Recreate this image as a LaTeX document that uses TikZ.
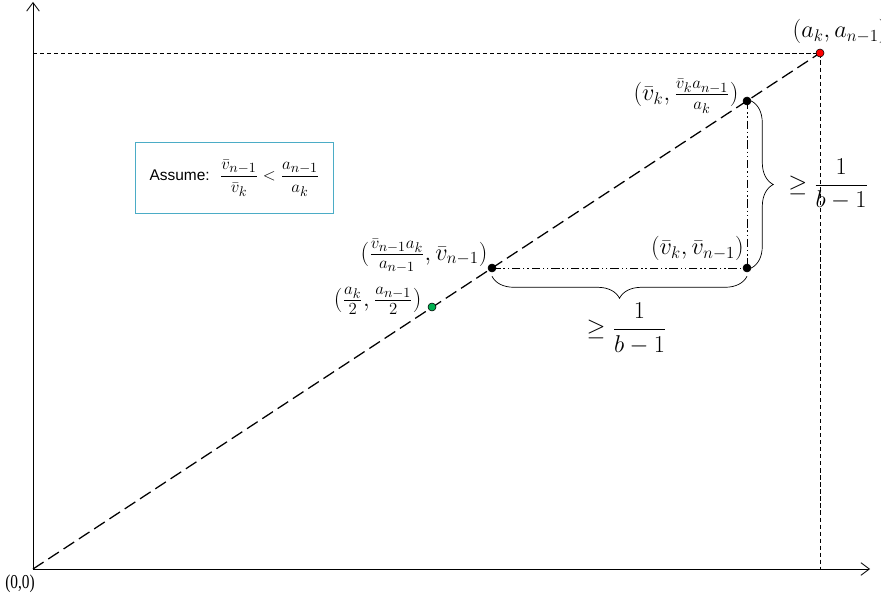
\documentclass[tikz,border=0pt]{standalone}
\usepackage{amsmath}
\usepackage{fontspec}
\setsansfont{Liberation Sans}
\newfontfamily\timesfont{Liberation Serif}
\DeclareMathSizes{16}{16}{12.5}{10}
\DeclareMathSizes{13}{13}{10}{8}
\usepackage{tikz}
\usetikzlibrary{arrows.meta, positioning, decorations.pathreplacing, backgrounds}
\usepackage{xcolor}
\definecolor{boxTeal}{RGB}{75,172,198}
\definecolor{dotGreen}{RGB}{0,176,80}
\definecolor{dotRed}{RGB}{255,0,0}

\begin{document}
\begin{tikzpicture}[
    x=0.025cm, y=-0.025cm,
    dot/.style={circle, draw=black, fill=black, inner sep=0pt, minimum size=0.2cm, line width=0.4pt},
    lbl/.style={inner sep=0pt, font=\fontsize{16}{19}\selectfont},
    diag/.style={line width=0.9pt, dash pattern=on 9pt off 4pt},
    guide/.style={line width=0.5pt, dash pattern=on 3pt off 2pt},
    dashdotdot/.style={line width=0.5pt, dash pattern=on 6pt off 2pt on 1pt off 2pt on 1pt off 2pt},
    bracebox/.style={decorate, decoration={brace, amplitude=0.55cm}, line width=0.5pt},
    >={Straight Barb[length=6pt, width=9pt]}
]
\useasboundingbox (0,0) rectangle (881,603);

% points
\coordinate (O) at (33,569);
\coordinate (xEnd) at (870,569);
\coordinate (yEnd) at (33,2);
\coordinate (aLeft) at (33,53);
\coordinate (aDown) at (820,569);
\node[dot, fill=dotRed] (pA) at (820,53) {};
\node[dot] (pB) at (747,101) {};
\node[dot] (pC) at (747,268) {};
\node[dot] (pD) at (492,268) {};
\node[dot, fill=dotGreen] (pM) at (432,307) {};

% lines
\begin{scope}[on background layer]
\draw[guide] (aLeft) -- (pA.center) -- (aDown);
\draw[diag] (O) -- (pA.center);
\draw[dashdotdot] (pB.center) -- (pC.center) -- (pD.center);
\end{scope}
\draw[->, line width=0.6pt] (O) -- (xEnd);
\draw[->, line width=0.6pt] (O) -- (yEnd);

% braces
\draw[bracebox] (pB.east) -- (pC.east)
    node[midway, right=0.8cm, anchor=west, font=\LARGE] (gV) {$\geq \dfrac{1}{b-1}$};
\draw[bracebox] ([yshift=-0.1cm]pC.south) -- ([yshift=-0.1cm]pD.south)
    node[midway, below=0.55cm, anchor=north, xshift=0.18cm, font=\fontsize{16}{19}\selectfont] (gH) {$\geq \dfrac{1}{b-1}$};

% labels
\node[lbl, above=0.12cm of pA, xshift=0.5cm] (lA) {$(a_k, a_{n-1})$};
\node[lbl, left=0.1cm of pB, yshift=0.12cm] (lB) {$(\bar{v}_k, \frac{\bar{v}_k a_{n-1}}{a_k})$};
\node[lbl, above left=0.1cm and 0cm of pC] (lC) {$(\bar{v}_k, \bar{v}_{n-1})$};
\node[lbl, left=0cm of pD, yshift=0.3cm] (lD) {$(\frac{\bar{v}_{n-1} a_k}{a_{n-1}}, \bar{v}_{n-1})$};
\node[lbl, left=0.15cm of pM, yshift=0.15cm] (lM) {$(\frac{a_k}{2}, \frac{a_{n-1}}{2})$};
\node[below left=0.15cm and -0.05cm of O, font=\timesfont\fontsize{14}{16}\selectfont, inner sep=0pt] (lO) {\scalebox{0.78}[1]{(0,0)}};

% assumption
\node[draw=boxTeal, line width=0.8pt, minimum width=4.95cm, minimum height=1.78cm,
      font=\sffamily\fontsize{11}{13}\selectfont, anchor=north west] (assume) at (135,142)
    {Assume: \ {\fontsize{13}{15}\selectfont$\dfrac{\bar{v}_{n-1}}{\bar{v}_k} < \dfrac{a_{n-1}}{a_k}$}};
\end{tikzpicture}
\end{document}
